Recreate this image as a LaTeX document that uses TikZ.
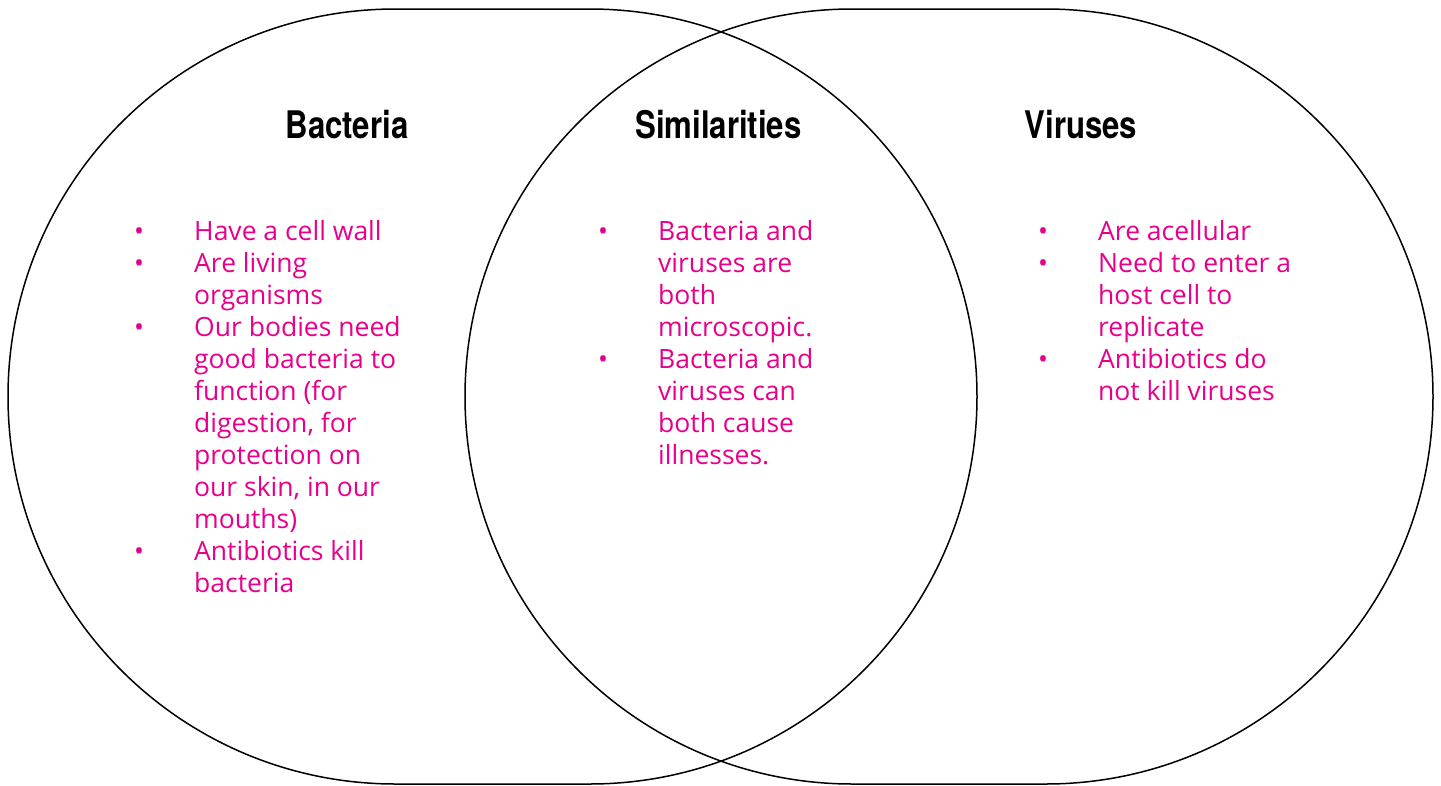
\documentclass[tikz,border=0pt]{standalone}
\usepackage{fontspec}
\setmainfont{Open Sans}
\newfontfamily\headfont[FakeStretch=0.82]{TeX Gyre Heros}
\definecolor{pinktext}{RGB}{232,0,140}
\begin{document}
\begin{tikzpicture}[x=1pt,y=-1pt,
  blob/.style={draw=black,line width=1.5pt,rounded corners=387.5pt},
  head/.style={anchor=base,font=\headfont\bfseries\fontsize{38}{40}\selectfont,inner sep=0pt},
  items/.style={anchor=base west,inner sep=0pt,text=pinktext,font=\fontsize{26.5}{32}\selectfont}]
\useasboundingbox (0,0) rectangle (1441,785);
\draw[blob] (8,9) rectangle (977,784);
\draw[blob] (465,9) rectangle (1433,784);
\node[head] (hb) at (347,138) {Bacteria};
\node[head] (hs) at (718.5,138) {Similarities};
\node[head] (hv) at (1081,138) {Viruses};
\node[items] (lb) at (134,240) {\begin{tabular}[t]{@{}p{60pt}@{}l@{}}
•&Have a cell wall\\
•&Are living\\
&organisms\\
•&Our bodies need\\
&good bacteria to\\
&function (for\\
&digestion, for\\
&protection on\\
&our skin, in our\\
&mouths)\\
•&Antibiotics kill\\
&bacteria
\end{tabular}};
\node[items] (ls) at (598,240) {\begin{tabular}[t]{@{}p{60pt}@{}l@{}}
•&Bacteria and\\
&viruses are\\
&both\\
&microscopic.\\
•&Bacteria and\\
&viruses can\\
&both cause\\
&illnesses.
\end{tabular}};
\node[items] (lv) at (1038,240) {\begin{tabular}[t]{@{}p{60pt}@{}l@{}}
•&Are acellular\\
•&Need to enter a\\
&host cell to\\
&replicate\\
•&Antibiotics do\\
&not kill viruses
\end{tabular}};
\end{tikzpicture}
\end{document}
